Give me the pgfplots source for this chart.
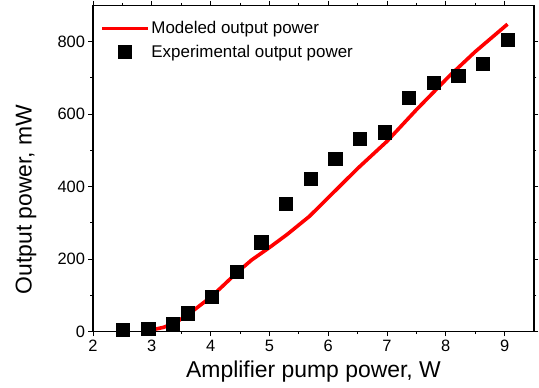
\documentclass[border=0pt]{standalone}
\usepackage{fontspec}
\setmainfont{Liberation Sans}
\usepackage{pgfplots}
\pgfplotsset{compat=1.18}
\pgfplotsset{
 longline legend/.style={legend image code/.code={\draw[##1] (0cm,0cm) -- (1.6cm,0cm);}},
 centermark legend/.style={legend image code/.code={\draw[mark repeat=2,mark phase=2,##1] plot coordinates {(0cm,0cm) (0.8cm,0cm) (1.6cm,0cm)};}},
}
\begin{document}
\begin{tikzpicture}
\useasboundingbox (-93bp,-56.3bp) rectangle (446bp,331.7bp);
\begin{axis}[
 at={(0,0)}, anchor=south west,
 scale only axis, width=441bp, height=326.4bp,
 xmin=2, xmax=9.5, ymin=0, ymax=900,
 xtick={2,...,9}, ytick={0,200,...,800},
 minor x tick num=1, minor y tick num=1,
 tick align=outside, major tick length=4.5bp, minor tick length=2.5bp,
 axis line style={line width=1.1bp},
 every tick/.style={black, line width=0.9bp},
 tick label style={font=\fontsize{16.5}{18}\selectfont},
 /pgf/number format/assume math mode=true,
 xlabel={Amplifier pump power, W}, ylabel={Output power, mW},
 label style={font=\fontsize{23}{26}\selectfont},
 xlabel style={at={(axis description cs:0.5,-0.1417)}, anchor=base},
 ylabel style={at={(axis description cs:-0.152,0.405)}, anchor=center},
 legend style={at={(axis description cs:0.012,0.963)}, anchor=north west, draw=none, fill=none,
   font=\fontsize{17}{18}\selectfont, row sep=5.5bp, inner sep=2bp},
 legend cell align=left,
]
\addplot[red, line width=3.6bp, longline legend] coordinates {
(3.0,5) (3.2,12) (3.4,25) (3.6,45) (3.8,70) (4.0,95) (4.2,125) (4.44,162)
(4.7,198) (5.0,232) (5.3,268) (5.68,318) (6.14,392) (6.5,450) (7.0,525)
(7.5,612) (8.06,705) (8.5,772) (9.05,848)};
\addlegendentry{Modeled output power}
\addplot[only marks, mark=square*, mark size=6.6bp, black, centermark legend] coordinates {
(2.51,5) (2.94,9) (3.35,21) (3.61,51) (4.02,97) (4.44,166) (4.86,247)
(5.28,352) (5.70,421) (6.12,477) (6.53,532) (6.96,550) (7.37,645)
(7.79,687) (8.21,705) (8.63,740) (9.05,806)};
\addlegendentry{Experimental output power}
\end{axis}
\end{tikzpicture}
\end{document}
